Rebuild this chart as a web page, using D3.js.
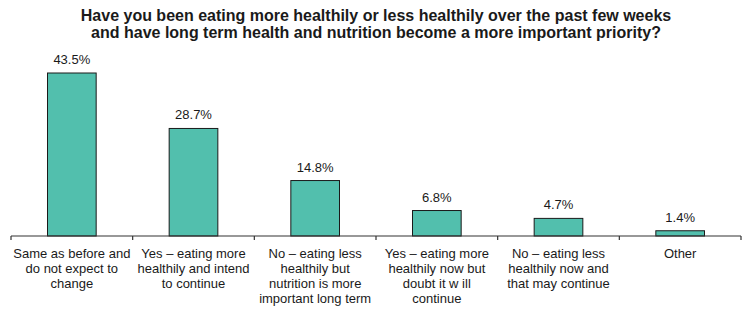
<!DOCTYPE html>
<html>
<head>
<meta charset="utf-8">
<script src="https://cdn.jsdelivr.net/npm/d3@7"></script>
<style>
  body { margin: 0; background: #fff; }
  text { font-family: "Liberation Sans", Arial, sans-serif; fill: #1a1a1a; }
</style>
</head>
<body>
<div id="chart"></div>
<script>
var svgWidth = 749;
var svgHeight = 315;

// chart data
var categories = [
  ["Same as before and", "do not expect to", "change"],
  ["Yes \u2013 eating more", "healthily and intend", "to continue"],
  ["No \u2013 eating less", "healthily but", "nutrition is more", "important long term"],
  ["Yes \u2013 eating more", "healthily now but", "doubt it w ill", "continue"],
  ["No \u2013 eating less", "healthily now and", "that may continue"],
  ["Other"]
];
var values = [43.5, 28.7, 14.8, 6.8, 4.7, 1.4];
var valueLabels = ["43.5%", "28.7%", "14.8%", "6.8%", "4.7%", "1.4%"];
var titleLines = [
  "Have you been eating more healthily or less healthily over the past few weeks",
  "and have long term health and nutrition become a more important priority?"
];

var data = values.map(function(v, i) {
  return { key: i, lines: categories[i], value: v, label: valueLabels[i] };
});

var svg = d3.select("#chart")
  .append("svg")
  .attr("width", svgWidth)
  .attr("height", svgHeight);

var axisY = 236;

// x scale: one band per answer
var xScale = d3.scaleBand()
  .domain(data.map(d => d.key))
  .range([11, 741])
  .padding(0);

// y scale
var yScale = d3.scaleLinear()
  .domain([0, 43.5])
  .range([axisY, 73]);

var barW = xScale.bandwidth() * 0.4;

// title
svg.append("g").selectAll("text")
  .data(titleLines)
  .enter()
  .append("text")
  .attr("x", 376)
  .attr("y", (d, i) => 21 + i * 17)
  .attr("text-anchor", "middle")
  .style("font-size", "16px")
  .style("font-weight", "bold")
  .text(d => d);

// bars
svg.append("g").selectAll("rect")
  .data(data)
  .enter()
  .append("rect")
  .attr("x", d => xScale(d.key) + (xScale.bandwidth() - barW) / 2)
  .attr("y", d => yScale(d.value))
  .attr("width", barW)
  .attr("height", d => axisY - yScale(d.value))
  .attr("fill", "#52bfad")
  .attr("stroke", "#1a1a1a")
  .attr("stroke-width", 1);

// value labels
svg.append("g").selectAll("text")
  .data(data)
  .enter()
  .append("text")
  .attr("x", d => xScale(d.key) + xScale.bandwidth() / 2)
  .attr("y", d => yScale(d.value) - 9)
  .attr("text-anchor", "middle")
  .style("font-size", "13px")
  .text(d => d.label);

// axis line with ticks at band edges
var axis = svg.append("g");
axis.append("line")
  .attr("x1", xScale.range()[0])
  .attr("x2", xScale.range()[1])
  .attr("y1", axisY)
  .attr("y2", axisY)
  .attr("stroke", "#333")
  .attr("stroke-width", 1.2);

var edges = data.map(d => xScale(d.key)).concat([xScale.range()[1]]);
axis.selectAll(".tick")
  .data(edges)
  .enter()
  .append("line")
  .attr("class", "tick")
  .attr("x1", d => d)
  .attr("x2", d => d)
  .attr("y1", axisY)
  .attr("y2", axisY + 4)
  .attr("stroke", "#333")
  .attr("stroke-width", 1.2);

// category labels
var cat = svg.append("g").selectAll("text")
  .data(data)
  .enter()
  .append("text")
  .attr("x", d => xScale(d.key) + xScale.bandwidth() / 2)
  .attr("y", 258)
  .attr("text-anchor", "middle")
  .style("font-size", "13px");

cat.selectAll("tspan")
  .data(d => d.lines)
  .enter()
  .append("tspan")
  .attr("x", function() { return d3.select(this.parentNode).attr("x"); })
  .attr("dy", (d, i) => i === 0 ? 0 : 15)
  .text(d => d);
</script>
</body>
</html>
